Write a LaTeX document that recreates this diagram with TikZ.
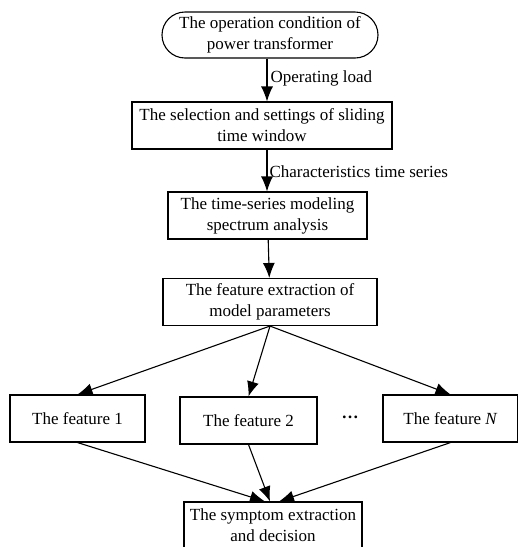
\documentclass[tikz,border=0pt]{standalone}
\usepackage{fontspec}
\setmainfont{Liberation Serif}
\usepackage{tikz}
\usetikzlibrary{shapes.misc}
\usetikzlibrary{arrows.meta}
\tikzset{
	startbox/.style={draw, rounded rectangle, inner sep=2pt, minimum width=220pt, minimum height=46pt, align=center, line width=1.1pt},
	procbox/.style={draw, rectangle, inner sep=2pt, minimum height=47pt, align=center, line width=1.1pt},
	featbox/.style={draw, rectangle, inner sep=2pt, minimum height=47pt, line width=1.1pt},
	% labels on the arrows
	lbl/.style={anchor=west, inner sep=1pt},
}

\begin{document}
\begin{tikzpicture}[node distance=90pt, font=\fontsize{17}{21}\selectfont]
				\useasboundingbox (0pt,0pt) rectangle (518pt,-547pt);
				
				\node (op) [startbox] at (270pt,-35pt) {The operation condition of\\power transformer};
				\node (sel) [procbox, minimum width=260pt, below of=op, xshift=-8pt, yshift=-0.5pt] {The selection and settings of sliding\\time window};
				\node (ts) [procbox, minimum width=199pt, below of=sel, xshift=5.5pt] {The time-series modeling\\spectrum analysis};
				\node (fe) [procbox, minimum width=214pt, below of=ts, xshift=2.5pt, yshift=3.5pt] {The feature extraction of\\model parameters};
				
				% features
				\node (f2) [featbox, minimum width=137pt, below of=fe, xshift=-21.5pt, yshift=-28.5pt] {The feature 2};
				\node (f1) [featbox, minimum width=135pt, left of=f2, xshift=-81pt, yshift=2pt] {The feature 1};
				\node (dots) [right of=f2, xshift=11.5pt, yshift=1.5pt] {\raisebox{4pt}{\textbf{\ldots}}};
				\node (fN) [featbox, minimum width=135pt, right of=f2, xshift=112pt, yshift=2pt] {The feature \textit{N}};
				
				\node (sd) [procbox, minimum width=178pt, below of=f2, xshift=24.5pt, yshift=-15pt] {The symptom extraction\\and decision};
				
				% arrow tips on the last box
				\coordinate (sdin1) at ([xshift=-8pt]sd.north);
				\coordinate (sdin2) at ([xshift=-3pt]sd.north);
				\coordinate (sdin3) at ([xshift=6pt]sd.north);
				
				\begin{scope}[line width=1.1pt, black, ->, >={Latex[length=15pt, width=12pt]}]
					\draw (op.south -| 267pt,0) -- (sel.north -| 267pt,0) node [lbl, midway, xshift=2pt, yshift=2pt] {Operating load};
					\draw (sel.south -| 267pt,0) -- (ts.north -| 267pt,0) node [lbl, midway, xshift=1pt, yshift=-1pt] {Characteristics time series};
					\draw (ts) -- (fe);
					
					\draw (fe.south) -- (f1.north);
					\draw (fe.south) -- (f2.north);
					\draw (fe.south) -- (fN.north);
					
					\draw (f1.south) -- (sdin1);
					\draw (f2.south) -- (sdin2);
					\draw (fN.south) -- (sdin3);
				\end{scope}
\end{tikzpicture}
\end{document}
